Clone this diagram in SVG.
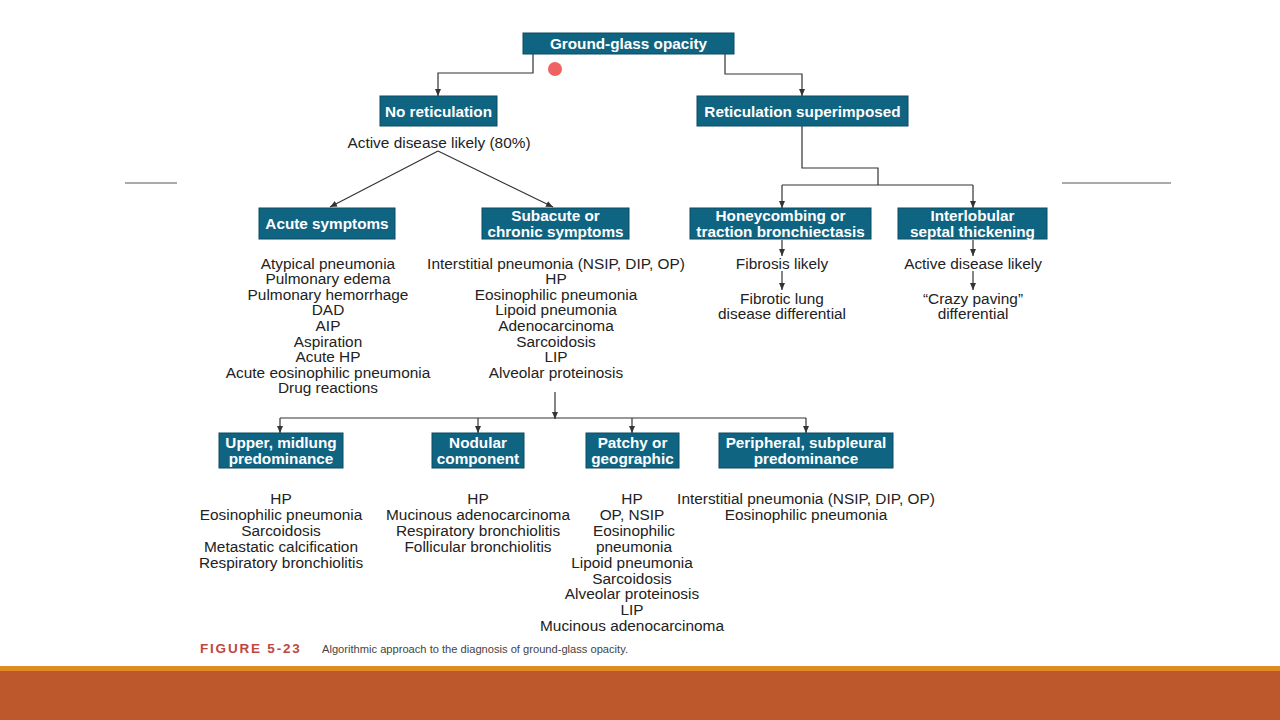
<svg xmlns="http://www.w3.org/2000/svg" width="1280" height="720" viewBox="0 0 1280 720">
<defs>
<style>
.box{fill:#0f6482;stroke:#0b4a62;stroke-width:1}
.bt{font-family:"Liberation Sans",Arial,sans-serif;font-weight:bold;font-size:15.3px;fill:#ffffff;text-anchor:middle}
.t{font-family:"Liberation Sans",Arial,sans-serif;font-size:15.4px;fill:#222222;text-anchor:middle}
.c{fill:none;stroke:#333333;stroke-width:1.2}
</style>
<marker id="ah" markerWidth="8" markerHeight="8" refX="7" refY="4" orient="auto" markerUnits="userSpaceOnUse">
<path d="M0,1 L7,4 L0,7 Z" fill="#333333"/>
</marker>
</defs>
<rect width="1280" height="720" fill="#ffffff"/>
<line x1="125" y1="183" x2="177" y2="183" stroke="#555" stroke-width="1"/>
<line x1="1062" y1="183" x2="1171" y2="183" stroke="#555" stroke-width="1"/>

<g id="connectors">
<path class="c" d="M533,54 V73 H438 V96" marker-end="url(#ah)"/>
<path class="c" d="M725,54 V74 H802 V96" marker-end="url(#ah)"/>
<path class="c" d="M438,151 L330,207" marker-end="url(#ah)"/>
<path class="c" d="M438,151 L553,207" marker-end="url(#ah)"/>
<path class="c" d="M802,126 V168 H878 V185"/>
<path class="c" d="M782,185 H973"/>
<path class="c" d="M782,185 V208" marker-end="url(#ah)"/>
<path class="c" d="M973,185 V208" marker-end="url(#ah)"/>
<path class="c" d="M782,240 V256" marker-end="url(#ah)"/>
<path class="c" d="M782,271 V290" marker-end="url(#ah)"/>
<path class="c" d="M973,240 V256" marker-end="url(#ah)"/>
<path class="c" d="M973,271 V290" marker-end="url(#ah)"/>
<path class="c" d="M555,392 V419" marker-end="url(#ah)"/>
<path class="c" d="M280,418 H806"/>
<path class="c" d="M280,418 V433" marker-end="url(#ah)"/>
<path class="c" d="M478,418 V433" marker-end="url(#ah)"/>
<path class="c" d="M632,418 V433" marker-end="url(#ah)"/>
<path class="c" d="M806,418 V433" marker-end="url(#ah)"/>
</g>

<circle cx="555" cy="69" r="7" fill="#f06262"/>

<g id="ggo"><rect class="box" x="523" y="33" width="211" height="21"/><text class="bt" x="628.5" y="49">Ground-glass opacity</text></g>
<g id="noret"><rect class="box" x="380" y="96" width="117" height="30"/><text class="bt" x="438.5" y="116.5">No reticulation</text></g>
<g id="ret"><rect class="box" x="697" y="96" width="211" height="30"/><text class="bt" x="802.5" y="116.5">Reticulation superimposed</text></g>
<g id="active80"><text class="t" x="439" y="147.5">Active disease likely (80%)</text></g>

<g id="acute"><rect class="box" x="259" y="208" width="136" height="31"/><text class="bt" x="327" y="229">Acute symptoms</text></g>
<g id="subacute"><rect class="box" x="482" y="208" width="147" height="31"/><text class="bt" x="555.5" y="221">Subacute or</text><text class="bt" x="555.5" y="236.5">chronic symptoms</text></g>
<g id="honey"><rect class="box" x="690" y="208" width="181" height="31"/><text class="bt" x="780.5" y="221">Honeycombing or</text><text class="bt" x="780.5" y="236.5">traction bronchiectasis</text></g>
<g id="interlob"><rect class="box" x="898" y="208" width="149" height="31"/><text class="bt" x="972.5" y="221">Interlobular</text><text class="bt" x="972.5" y="236.5">septal thickening</text></g>

<g id="acute-list">
<text class="t" x="328" y="268.5">Atypical pneumonia</text>
<text class="t" x="328" y="284.1">Pulmonary edema</text>
<text class="t" x="328" y="299.7">Pulmonary hemorrhage</text>
<text class="t" x="328" y="315.3">DAD</text>
<text class="t" x="328" y="330.9">AIP</text>
<text class="t" x="328" y="346.5">Aspiration</text>
<text class="t" x="328" y="362.1">Acute HP</text>
<text class="t" x="328" y="377.7">Acute eosinophilic pneumonia</text>
<text class="t" x="328" y="393.3">Drug reactions</text>
</g>
<g id="subacute-list">
<text class="t" x="556" y="268.5">Interstitial pneumonia (NSIP, DIP, OP)</text>
<text class="t" x="556" y="284.1">HP</text>
<text class="t" x="556" y="299.7">Eosinophilic pneumonia</text>
<text class="t" x="556" y="315.3">Lipoid pneumonia</text>
<text class="t" x="556" y="330.9">Adenocarcinoma</text>
<text class="t" x="556" y="346.5">Sarcoidosis</text>
<text class="t" x="556" y="362.1">LIP</text>
<text class="t" x="556" y="377.7">Alveolar proteinosis</text>
</g>
<g id="fibrosis"><text class="t" x="782" y="268.5">Fibrosis likely</text></g>
<g id="fibrotic-diff"><text class="t" x="782" y="303.5">Fibrotic lung</text><text class="t" x="782" y="319">disease differential</text></g>
<g id="active"><text class="t" x="973" y="268.5">Active disease likely</text></g>
<g id="crazy"><text class="t" x="973" y="303.5">“Crazy paving”</text><text class="t" x="973" y="319">differential</text></g>

<g id="upper"><rect class="box" x="219" y="433" width="124" height="35"/><text class="bt" x="281" y="448">Upper, midlung</text><text class="bt" x="281" y="464">predominance</text></g>
<g id="nodular"><rect class="box" x="432" y="433" width="92" height="35"/><text class="bt" x="478" y="448">Nodular</text><text class="bt" x="478" y="464">component</text></g>
<g id="patchy"><rect class="box" x="586" y="433" width="93" height="35"/><text class="bt" x="632.5" y="448">Patchy or</text><text class="bt" x="632.5" y="464">geographic</text></g>
<g id="peripheral"><rect class="box" x="719" y="433" width="174" height="35"/><text class="bt" x="806" y="448">Peripheral, subpleural</text><text class="bt" x="806" y="464">predominance</text></g>

<g id="upper-list">
<text class="t" x="281" y="503.5">HP</text>
<text class="t" x="281" y="519.5">Eosinophilic pneumonia</text>
<text class="t" x="281" y="535.5">Sarcoidosis</text>
<text class="t" x="281" y="551.5">Metastatic calcification</text>
<text class="t" x="281" y="567.5">Respiratory bronchiolitis</text>
</g>
<g id="nodular-list">
<text class="t" x="478" y="503.5">HP</text>
<text class="t" x="478" y="519.5">Mucinous adenocarcinoma</text>
<text class="t" x="478" y="535.5">Respiratory bronchiolitis</text>
<text class="t" x="478" y="551.5">Follicular bronchiolitis</text>
</g>
<g id="patchy-list">
<text class="t" x="632" y="503.5">HP</text>
<text class="t" x="632" y="519.5">OP, NSIP</text>
<text class="t" x="634" y="535.5">Eosinophilic</text>
<text class="t" x="634" y="551.5">pneumonia</text>
<text class="t" x="632" y="567.5">Lipoid pneumonia</text>
<text class="t" x="632" y="583.5">Sarcoidosis</text>
<text class="t" x="632" y="599">Alveolar proteinosis</text>
<text class="t" x="632" y="614.5">LIP</text>
<text class="t" x="632" y="630.5">Mucinous adenocarcinoma</text>
</g>
<g id="peripheral-list">
<text class="t" x="806" y="503.5">Interstitial pneumonia (NSIP, DIP, OP)</text>
<text class="t" x="806" y="519.5">Eosinophilic pneumonia</text>
</g>

<g id="caption">
<text x="200" y="652.5" font-family="'Liberation Sans',Arial,sans-serif" font-weight="bold" font-size="13.5px" fill="#c0473f" letter-spacing="1.8">FIGURE 5-23</text>
<text x="322" y="652.5" font-family="'Liberation Sans',Arial,sans-serif" font-size="11px" fill="#444444" textLength="306" lengthAdjust="spacingAndGlyphs">Algorithmic approach to the diagnosis of ground-glass opacity.</text>
</g>

<rect x="0" y="666" width="1280" height="8" fill="#e08a24"/>
<rect x="0" y="671" width="1280" height="49" fill="#bd582c"/>
</svg>
